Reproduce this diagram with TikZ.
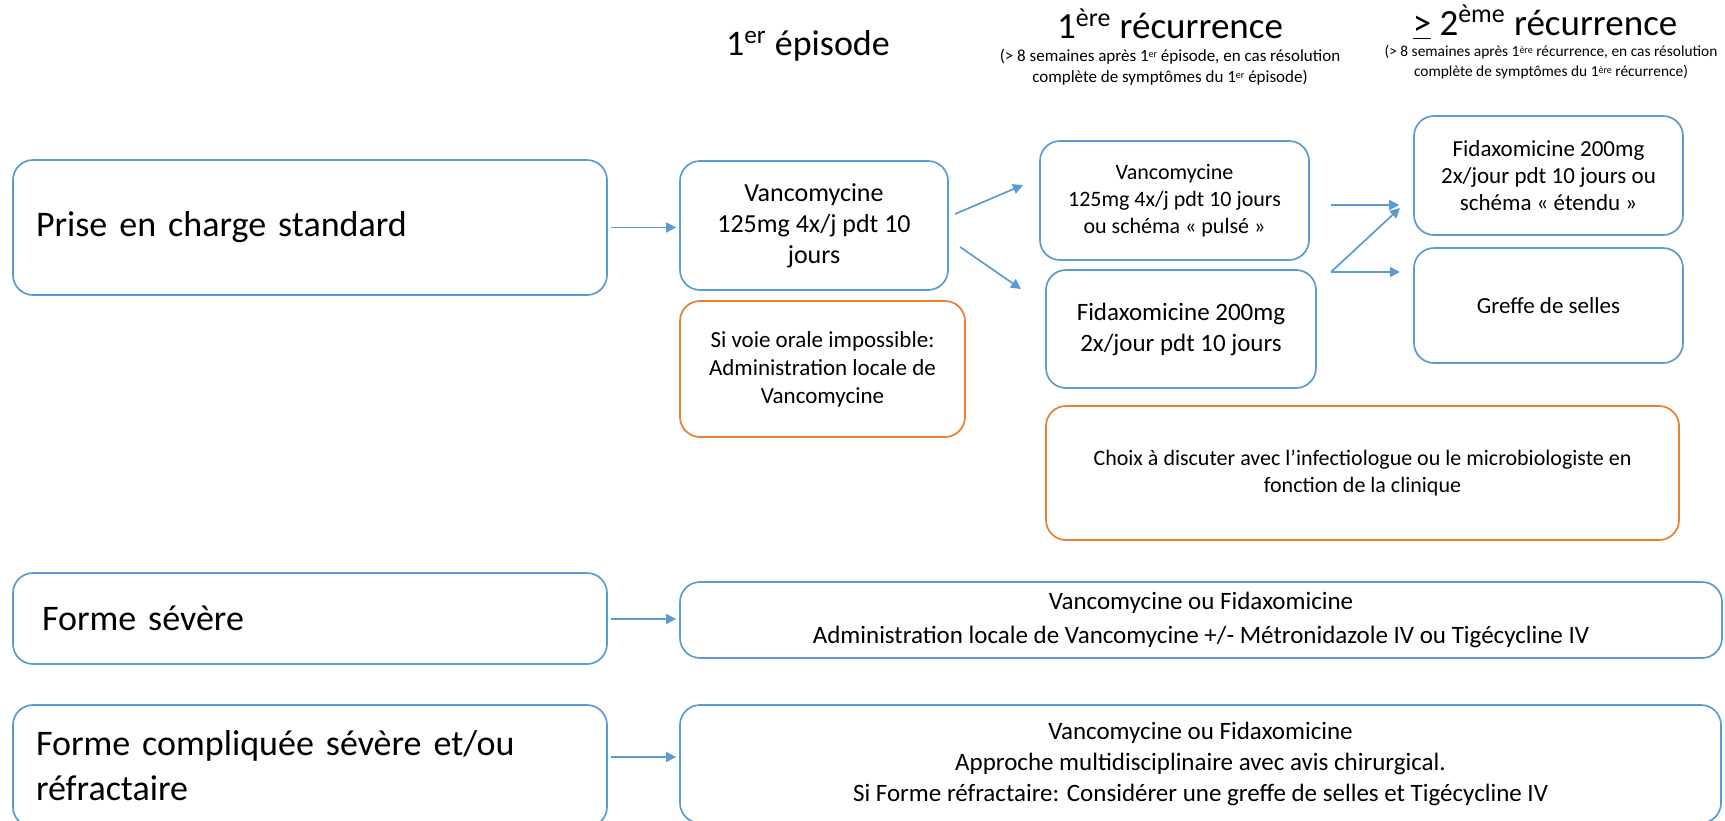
\documentclass[tikz,border=0pt]{standalone}
\usepackage{fontspec}
\setmainfont{Carlito}
\usetikzlibrary{arrows.meta}
\definecolor{bblue}{HTML}{5B9BD5}
\definecolor{borange}{HTML}{ED7D31}
\newcommand\myfs[2]{\fontsize{#1pt}{#2pt}\selectfont}
\newcommand\tinysup[1]{\raisebox{0.45ex}{\fontsize{5pt}{5pt}\selectfont #1}}
\begin{document}
\begin{tikzpicture}[x=0.5pt,y=-0.5pt,
  bx/.style={draw=bblue, line width=0.85pt, rounded corners=10pt, align=center, inner sep=0pt},
  ob/.style={bx, draw=borange},
  sz/.style 2 args={minimum width=#1*0.5pt, minimum height=#2*0.5pt},
  arr/.style={draw=bblue, line width=0.85pt, -{Triangle[length=5pt,width=5pt]}},
  ttl/.style={inner sep=0pt, align=center}]
\path[use as bounding box] (0,0) rectangle (1725,820);
\clip (0,0) rectangle (1725,820);

% titles
\node[ttl, font=\myfs{18}{22}] (t1) at (808,46) {1\textsuperscript{er} épisode};
\node[ttl, font=\myfs{18.5}{22}] (t2) at (1170,24) {1\textsuperscript{ère} récurrence};
\node[ttl, font=\myfs{8.5}{10.5}] (t2s) at (1170,67) {(> 8 semaines après 1\tinysup{er} épisode, en cas résolution\\complète de symptômes du 1\tinysup{er} épisode)};
\node[ttl, font=\myfs{18.5}{22}] (t3) at (1545,22) {\underline{>} 2\textsuperscript{ème} récurrence};
\node[ttl, font=\myfs{7.7}{10}] (t3s) at (1551,62) {(> 8 semaines après 1\tinysup{ère} récurrence, en cas résolution\\complète de symptômes du 1\tinysup{ère} récurrence)};

% row 1
\node[bx, sz={594}{135}, align=left, text width=274pt, inner xsep=11.5pt, font=\myfs{18}{22.5}] (prise) at (310,227.5) {Prise en charge standard};
\node[bx, sz={268}{129}, font=\myfs{13}{15.5}] (v1) at (814,225.5) {Vancomycine\\125mg 4x/j pdt 10\\jours};
\node[ob, sz={285}{136}, font=\myfs{11.5}{14}] (voie) at (822.5,369) {Si voie orale impossible:\\Administration locale de\\Vancomycine};
\node[bx, sz={269}{119}, font=\myfs{11}{13.5}] (v2) at (1174.5,200.5) {Vancomycine\\125mg 4x/j pdt 10 jours\\ou schéma « pulsé »};
\node[bx, sz={270}{118}, font=\myfs{12.5}{15.5}] (f1) at (1181,329) {Fidaxomicine 200mg\\2x/jour pdt 10 jours};
\node[ob, sz={633}{134}, font=\myfs{11}{13.75}] (choix) at (1362.5,473) {Choix à discuter avec l’infectiologue ou le microbiologiste en\\fonction de la clinique};
\node[bx, sz={269}{119}, font=\myfs{11.5}{13.5}] (f2) at (1548.5,175.5) {Fidaxomicine 200mg\\2x/jour pdt 10 jours ou\\schéma « étendu »};
\node[bx, sz={269}{115}, font=\myfs{11.5}{13.5}] (gr) at (1548.5,305.5) {Greffe de selles};

% row 2
\node[bx, sz={594}{91}, align=left, text width=268pt, inner xsep=14.5pt, font=\myfs{18}{22.5}] (sev) at (310,618.5) {Forme sévère};
\node[bx, sz={1042}{76}, font=\myfs{12.5}{17}] (sevr) at (1201,620) {Vancomycine ou Fidaxomicine\\Administration locale de Vancomycine +/- Métronidazole IV ou Tigécycline IV};

% row 3
\node[bx, sz={594}{122}, align=left, text width=274pt, inner xsep=11.5pt, font=\myfs{18}{22.5}] (comp) at (310,766) {Forme compliquée sévère et/ou\\réfractaire};
\node[bx, sz={1041}{118}, font=\myfs{12.5}{15.5}] (compr) at (1200.5,764) {Vancomycine ou Fidaxomicine\\Approche multidisciplinaire avec avis chirurgical.\\Si Forme réfractaire: Considérer une greffe de selles et Tigécycline IV};

% connectors
\draw[arr, shorten <=1.5pt, shorten >=1.5pt] (prise.east) -- (prise.east -| v1.west);
\coordinate (d1a) at (955,214);
\coordinate (d1b) at (1023,185);
\coordinate (d2a) at (960,247);
\coordinate (d2b) at (1021,289);
\draw[arr] (d1a) -- (d1b);
\draw[arr] (d2a) -- (d2b);
\coordinate (ra) at (1331,205);
\coordinate (sp) at (1331,272);
\coordinate (rb) at (1400,208);
\draw[arr, shorten >=7pt] (ra) -- (ra -| f2.west);
\draw[arr] (sp) -- (rb);
\draw[arr] (sp) -- (1400,272);
\draw[arr, shorten <=1.5pt, shorten >=1.5pt] (sev.east |- 0,619) -- (sevr.west |- 0,619);
\draw[arr, shorten <=1.5pt, shorten >=1.5pt] (comp.east |- 0,757) -- (compr.west |- 0,757);
\end{tikzpicture}
\end{document}
